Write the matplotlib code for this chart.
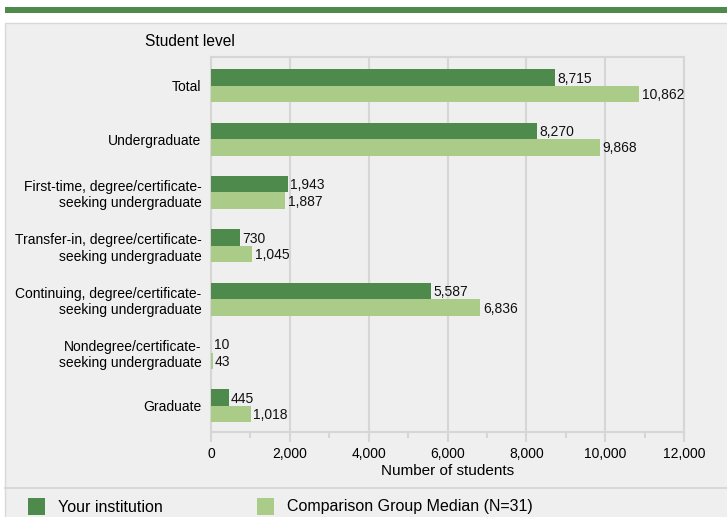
import matplotlib.pyplot as plt
from matplotlib.patches import Rectangle
from matplotlib.lines import Line2D

plt.rcParams['font.family'] = ['Liberation Sans', 'DejaVu Sans']

levels = ['Total', 'Undergraduate',
          'First-time, degree/certificate-\nseeking undergraduate',
          'Transfer-in, degree/certificate-\nseeking undergraduate',
          'Continuing, degree/certificate-\nseeking undergraduate',
          'Nondegree/certificate-\nseeking undergraduate',
          'Graduate']
your_inst = [8715, 8270, 1943, 730, 5587, 10, 445]
comparison = [10862, 9868, 1887, 1045, 6836, 43, 1018]
x_ticks = [0, 2000, 4000, 6000, 8000, 10000, 12000]

dark = '#4d8a4c'
light = '#aacc88'
panel = '#efefef'
gridc = '#d6d6d6'

fig = plt.figure(figsize=(7.27, 5.17), dpi=100)
fig.patch.set_facecolor('white')

# background panel and top band
fig.patches.append(Rectangle((5/727, -0.01), 1, 1.01 - 23/517, transform=fig.transFigure,
                             facecolor=panel, edgecolor='#d8d8d8', lw=1, zorder=-2))
fig.patches.append(Rectangle((5/727, 1 - 13/517), 1, 6/517, transform=fig.transFigure,
                             facecolor='#4e8a4c', edgecolor='none', zorder=-1))
fig.lines.append(Line2D([5/727, 1], [1 - 488/517, 1 - 488/517], transform=fig.transFigure,
                        color='#d8d8d8', lw=1.5, zorder=-1))

ax = fig.add_axes([211/727, 1 - 432/517, 473/727, 375/517])
ax.set_facecolor(panel)

pos = list(range(len(levels)))
h = 0.31
ax.barh([p - h/2 for p in pos], your_inst, height=h, color=dark, zorder=3)
ax.barh([p + h/2 for p in pos], comparison, height=h, color=light, zorder=3)

for p, v in zip(pos, your_inst):
    ax.text(v + 60, p - h/2 + 0.02, f'{v:,}', va='center', ha='left', fontsize=10, color='#111111')
for p, v in zip(pos, comparison):
    ax.text(v + 60, p + h/2 + 0.02, f'{v:,}', va='center', ha='left', fontsize=10, color='#111111')

ax.set_ylim(6.49, -0.54)
ax.set_xlim(0, 12000)
ax.set_yticks(pos)
ax.set_yticklabels(levels, fontsize=10)
ax.set_xticks(x_ticks)
ax.set_xticklabels([f'{t:,}' for t in x_ticks], fontsize=10)
ax.set_xticks(range(1000, 12000, 2000), minor=True)
ax.tick_params(axis='y', length=0, pad=7)
ax.tick_params(axis='x', which='major', length=7, color=gridc, width=1.5, pad=4)
ax.tick_params(axis='x', which='minor', length=4, color=gridc, width=1.5)
ax.grid(axis='x', color=gridc, lw=1.5, zorder=0)
for s in ax.spines.values():
    s.set_color(gridc)
    s.set_linewidth(1.5)
ax.set_xlabel('Number of students', fontsize=11, labelpad=2)

fig.text(145/727, 1 - 42/517, 'Student level', fontsize=11.2, va='center', ha='left')

# legend
fig.patches.append(Rectangle((28/727, 1 - 515/517), 17/727, 17/517, transform=fig.transFigure,
                             facecolor=dark, edgecolor='none'))
fig.text(58/727, 1 - 507/517, 'Your institution', fontsize=11.5, va='center', ha='left')
fig.patches.append(Rectangle((257/727, 1 - 515/517), 17/727, 17/517, transform=fig.transFigure,
                             facecolor=light, edgecolor='none'))
fig.text(287/727, 1 - 507/517, 'Comparison Group Median (N=31)', fontsize=11.5, va='center', ha='left')

fig.savefig('out.png', dpi=100, facecolor=fig.get_facecolor())
